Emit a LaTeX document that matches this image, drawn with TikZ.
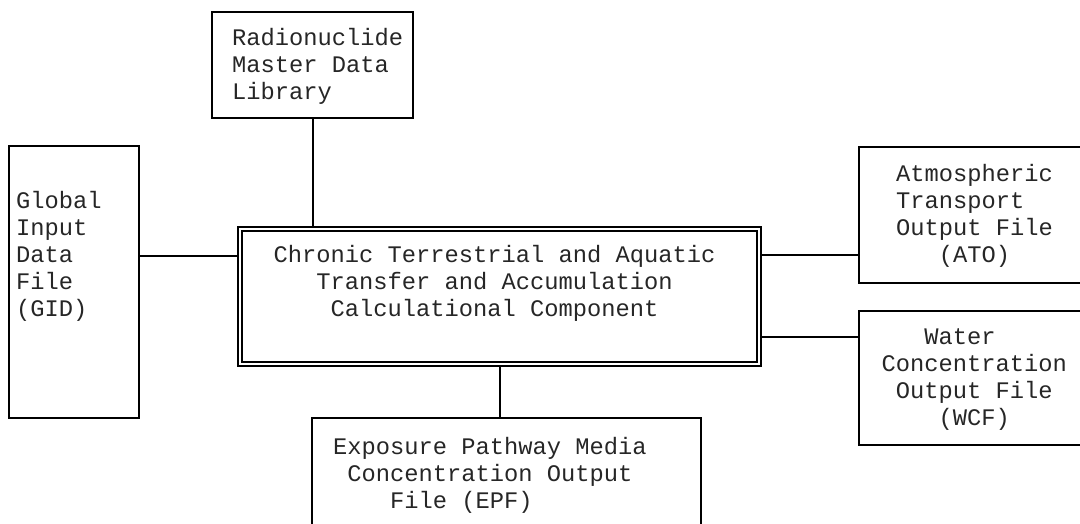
\documentclass[tikz,border=0pt]{standalone}
\usepackage{fontspec}
\newfontfamily\cour{Liberation Mono}
\begin{document}
\begin{tikzpicture}[x=1pt,y=-1pt,
  box/.style={draw=black, line width=2pt, inner sep=0pt},
  corebox/.style={draw=black, double=white, double distance=2.4pt, line width=1.4pt, inner sep=0pt, outer sep=2.6pt},
  lbl/.style={font=\cour\fontsize{23.75}{27.2}\selectfont, text=black!85, align=left, anchor=base west, inner sep=0pt},
  link/.style={draw=black, line width=2pt}]
\useasboundingbox (0,0) rectangle (1080,523);
\clip (0,0) rectangle (1080,523);
% boxes
\node[box, minimum width=201pt, minimum height=106pt] (lib) at (312.5,65) {};
\node[box, minimum width=130pt, minimum height=272pt] (gid) at (74,282) {};
\node[corebox, minimum width=519pt, minimum height=135pt] (core) at (499.5,296.5) {};
\node[box, minimum width=389pt, minimum height=142pt] (epf) at (506.5,489) {};
\node[box, minimum width=241pt, minimum height=136pt] (ato) at (979.5,215) {};
\node[box, minimum width=241pt, minimum height=134pt] (wcf) at (979.5,378) {};
% texts (anchor = baseline of the last line)
\node[lbl] (libt) at (232,99.4) {Radionuclide\\Master Data\\Library};
\node[lbl] (gidt) at (16,316.8) {Global\\Input\\Data\\File\\(GID)};
\node[lbl] (coret) at (273.5,316.4) {Chronic Terrestrial and Aquatic\\\phantom{XXX}Transfer and Accumulation\\\phantom{XXXX}Calculational Component};
\node[lbl] (epft) at (333,508.4) {Exposure Pathway Media\\\phantom{X}Concentration Output\\\phantom{XXXX}File (EPF)};
\node[lbl] (atot) at (896,262.6) {Atmospheric\\Transport\\Output File\\\phantom{XXX}(ATO)};
\node[lbl] (wcft) at (881.5,425.6) {\phantom{XXX}Water\\Concentration\\\phantom{X}Output File\\\phantom{XXXX}(WCF)};
% connectors
\draw[link] (lib.south) -- (lib.south |- core.north);
\draw[link] (gid.east |- 0,256) -- (core.west |- 0,256);
\draw[link] (core.east |- 0,255) -- (ato.west |- 0,255);
\draw[link] (core.east |- 0,337) -- (wcf.west |- 0,337);
\draw[link] (core.south) -- (core.south |- epf.north);
\end{tikzpicture}
\end{document}
